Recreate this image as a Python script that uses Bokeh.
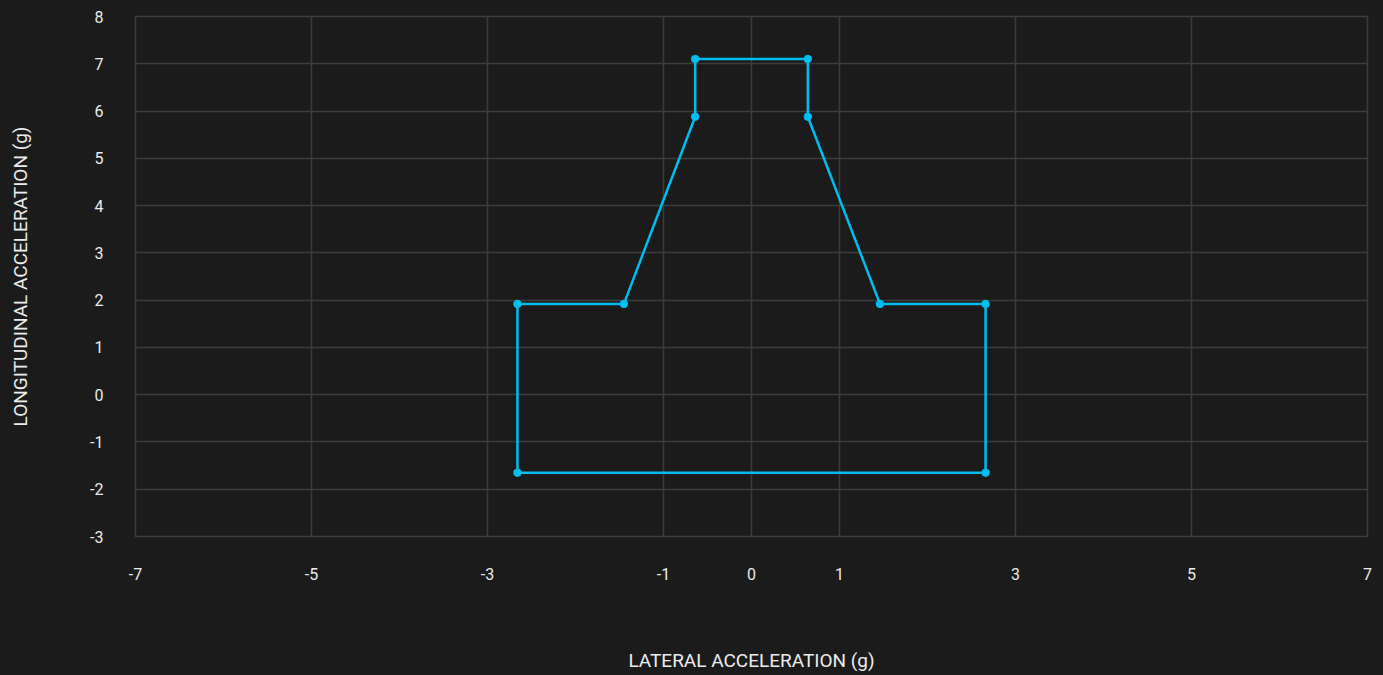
from bokeh.plotting import figure
from bokeh.models import FixedTicker
from bokeh.embed import file_html
from bokeh.resources import INLINE

# Data (g)
lateral = [-2.66, -1.45, -0.64, -0.64, 0.64, 0.64, 1.46, 2.66, 2.66, -2.66, -2.66]
longitudinal = [1.92, 1.92, 5.88, 7.10, 7.10, 5.88, 1.92, 1.92, -1.65, -1.65, 1.92]
x_ticks = [-7, -5, -3, -1, 0, 1, 3, 5, 7]
y_ticks = [-3, -2, -1, 0, 1, 2, 3, 4, 5, 6, 7, 8]

BG = "#1b1b1b"
GRID = "#3c3c3c"
TXT = "#ececec"
LINE = "#00bdf0"
FONT = "Roboto"

p = figure(width=1383, height=675, output_backend="svg", toolbar_location=None,
           x_range=(-7, 7), y_range=(-3, 8),
           min_border_left=135, min_border_right=16, min_border_top=16, min_border_bottom=139,
           background_fill_color=BG, border_fill_color=BG)

p.outline_line_color = GRID
p.outline_line_width = 1.5

p.xaxis.ticker = FixedTicker(ticks=x_ticks)
p.yaxis.ticker = FixedTicker(ticks=y_ticks)
p.xaxis.major_label_overrides = {t: str(t) for t in x_ticks}
p.yaxis.major_label_overrides = {t: str(t) for t in y_ticks}
for ax in (p.xaxis, p.yaxis):
    ax.axis_line_color = None
    ax.major_tick_line_color = None
    ax.minor_tick_line_color = None
    ax.major_label_text_color = TXT
    ax.major_label_text_font = FONT
    ax.major_label_text_font_size = "16px"
    ax.axis_label_text_color = TXT
    ax.axis_label_text_font = FONT
    ax.axis_label_text_font_size = "19px"
    ax.axis_label_text_font_style = "normal"

p.xaxis.axis_label = "LATERAL ACCELERATION (g)"
p.yaxis.axis_label = "LONGITUDINAL ACCELERATION (g)"
p.xaxis.major_label_standoff = 25
p.xaxis.axis_label_standoff = 66
p.yaxis.major_label_standoff = 26
p.yaxis.axis_label_standoff = 55

p.xgrid.ticker = FixedTicker(ticks=x_ticks)
p.ygrid.ticker = FixedTicker(ticks=y_ticks)
p.grid.grid_line_color = GRID
p.grid.grid_line_width = 1.5

p.line(lateral, longitudinal, line_color=LINE, line_width=2.5)
p.scatter(lateral[:-1], longitudinal[:-1], size=7.5, fill_color=LINE, line_color=LINE)

html = file_html(p, INLINE)
html = html.replace("<head>", "<head><style>html,body{background:#1b1b1b;margin:0;overflow:hidden;}</style>", 1)
open("out.html", "w").write(html)
